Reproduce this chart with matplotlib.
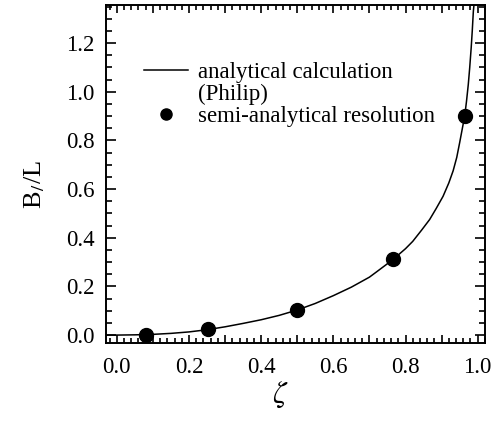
import numpy as np
import matplotlib
matplotlib.use("Agg")
import matplotlib.pyplot as plt
from matplotlib.lines import Line2D
from matplotlib.ticker import MultipleLocator, FuncFormatter

# analytical curve (Philip)
zeta_curve = [-0.031, 0.0, 0.05, 0.1, 0.15, 0.2, 0.25, 0.3, 0.35, 0.4, 0.45,
              0.5, 0.55, 0.6, 0.65, 0.7, 0.72, 0.765, 0.8, 0.82, 0.845, 0.867,
              0.885, 0.904, 0.92, 0.932, 0.942, 0.95, 0.957, 0.964, 0.969,
              0.974, 0.978, 0.982, 0.985, 0.988, 0.990]
b_curve = [0.0, 0.0, 0.001, 0.003, 0.007, 0.013, 0.022, 0.034, 0.048, 0.063,
           0.081, 0.103, 0.13, 0.162, 0.197, 0.238, 0.26, 0.31, 0.355, 0.385,
           0.432, 0.475, 0.52, 0.57, 0.625, 0.675, 0.73, 0.79, 0.845, 0.90,
           0.96, 1.03, 1.10, 1.18, 1.25, 1.33, 1.36]

# semi-analytical resolution
zeta_pts = [0.082, 0.253, 0.498, 0.765, 0.964]
b_pts = [0.0, 0.023, 0.103, 0.312, 0.901]

plt.rcParams['font.family'] = ['Liberation Serif', 'DejaVu Serif']
plt.rcParams['mathtext.fontset'] = 'stix'

fig = plt.figure(figsize=(5.03, 4.21), dpi=100)
ax = fig.add_axes([0.210, 0.185, 0.754, 0.803])

curve, = ax.plot(zeta_curve, b_curve, color='black', lw=1.1)
dots, = ax.plot(zeta_pts, b_pts, 'o', color='black', ms=10, ls='none')

ax.set_xlim(-0.031, 1.02)
ax.set_ylim(-0.033, 1.356)

ax.xaxis.set_major_locator(MultipleLocator(0.1))
ax.xaxis.set_minor_locator(MultipleLocator(0.02))
ax.xaxis.set_major_formatter(FuncFormatter(
    lambda v, p: '%.1f' % v if round(v * 10) % 2 == 0 else ''))
ax.yaxis.set_major_locator(MultipleLocator(0.2))
ax.yaxis.set_minor_locator(MultipleLocator(0.05))

ax.tick_params(axis='both', which='both', direction='in',
               top=True, right=True, labelsize=16.5, width=1.2)
ax.tick_params(axis='x', which='major', length=6, pad=10)
ax.tick_params(axis='x', which='minor', length=3.5)
ax.tick_params(axis='y', which='major', length=7, pad=8)
ax.tick_params(axis='y', which='minor', length=4)
for s in ax.spines.values():
    s.set_linewidth(1.4)

ax.set_xlabel(r'$\zeta$', fontsize=22)
ax.xaxis.set_label_coords(0.46, -0.11)
ax.set_ylabel(r'B$_{/\!\!/}$/L', fontsize=19)
ax.yaxis.set_label_coords(-0.155, 0.47)

# second text line of the first entry gets an empty handle
blank = Line2D([], [], color='none')
ax.legend([curve, blank, dots],
          ['analytical calculation', '(Philip)', 'semi-analytical resolution'],
          loc='upper left', bbox_to_anchor=(0.06, 0.88), frameon=False,
          fontsize=16.5, handlelength=1.9, handletextpad=0.45,
          labelspacing=0.05, markerscale=0.8, borderpad=0.2)

fig.savefig('out.png', dpi=100)
